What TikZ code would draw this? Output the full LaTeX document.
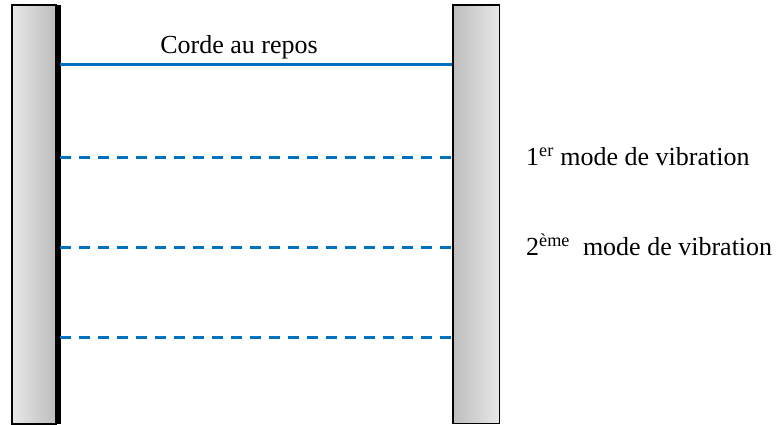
\documentclass[tikz,border=0pt]{standalone}
\usepackage{fontspec}
\setmainfont{Liberation Serif}
\usetikzlibrary{calc}
\definecolor{stringblue}{RGB}{0,112,192}
\tikzstyle{wallleft}=[draw=black,line width=1.5pt,left color=gray!18,right color=gray!52]
\tikzstyle{wallright}=[draw=black,line width=1.2pt,left color=gray!52,right color=gray!18]
\tikzstyle{restline}=[stringblue,line width=3.6pt]
\tikzstyle{modeline}=[stringblue,line width=2.4pt,dash pattern=on 10.5pt off 8.5pt]
\tikzstyle{label}=[inner sep=0pt,font=\rmfamily\fontsize{26}{30}\selectfont]

\begin{document}
\begin{tikzpicture}[x=1pt,y=-1pt]
  \useasboundingbox (0,0) rectangle (778,425);
  % the two walls
  \path[wallleft] (12,5) rectangle (56,424);
  \draw[line width=5pt] (58.5,5) -- (58.5,424);
  \path[wallright] (452.5,5) rectangle (499.5,423.5);
  \draw[line width=2pt] (452.5,5) -- (452.5,423.5);
  % anchor points of the string
  \foreach \y/\k in {64.5/0,157.5/1,247.5/2,337.5/3} {
    \coordinate (l\k) at (60,\y);
    \coordinate (r\k) at (452,\y);
  }
  \draw[restline] (l0) -- (r0);
  \foreach \k in {1,2,3}
    \draw[modeline] (l\k) -- (r\k);
  \node[label] (rest) at (239,47) {Corde au repos};
  \node[label,anchor=west] (mode1) at (526,157) {1\textsuperscript{er} mode de vibration};
  \node[label,anchor=west] (mode2) at (526,245) {2\textsuperscript{ème}\ \ mode de vibration};
\end{tikzpicture}
\end{document}
